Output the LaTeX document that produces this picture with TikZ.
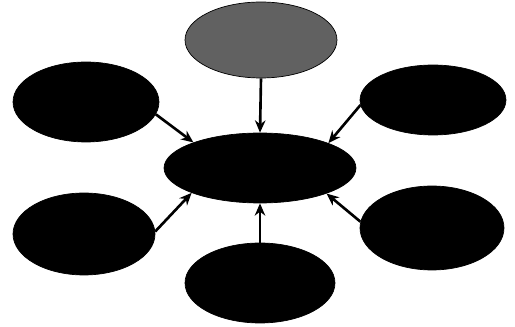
\documentclass[tikz,border=0pt]{standalone}
\usetikzlibrary{shapes.geometric,arrows.meta}
\begin{document}
\begin{tikzpicture}[x=0.02cm,y=-0.02cm,
  blob/.style={ellipse,fill=black,draw=black,inner sep=0pt},
  conn/.style={-{Stealth[length=7pt,width=6pt]},line width=1.5pt,black}]
\useasboundingbox (0,0) rectangle (515,327);
\node[blob,minimum width=3.84cm,minimum height=1.40cm] (c) at (260,168) {};
\node[blob,fill=black!62,minimum width=3.04cm,minimum height=1.52cm] (t) at (261,40) {};
\node[blob,minimum width=2.92cm,minimum height=1.60cm] (lt) at (86,102) {};
\node[blob,minimum width=2.92cm,minimum height=1.40cm] (rt) at (433,100) {};
\node[blob,minimum width=2.84cm,minimum height=1.64cm] (lb) at (84,234) {};
\node[blob,minimum width=2.88cm,minimum height=1.68cm] (rb) at (432,228) {};
\node[blob,minimum width=3.00cm,minimum height=1.60cm] (b) at (260,283) {};
\draw[conn] (t.-90) -- (c.90);
\draw[conn] (lt.-10) -- (c.159);
\draw[conn] (rt.184) -- (c.20);
\draw[conn] (lb.2) -- (c.200);
\draw[conn] (b.90) -- (c.-90);
\draw[conn] (rb.175) -- (c.-21);
\end{tikzpicture}
\end{document}
